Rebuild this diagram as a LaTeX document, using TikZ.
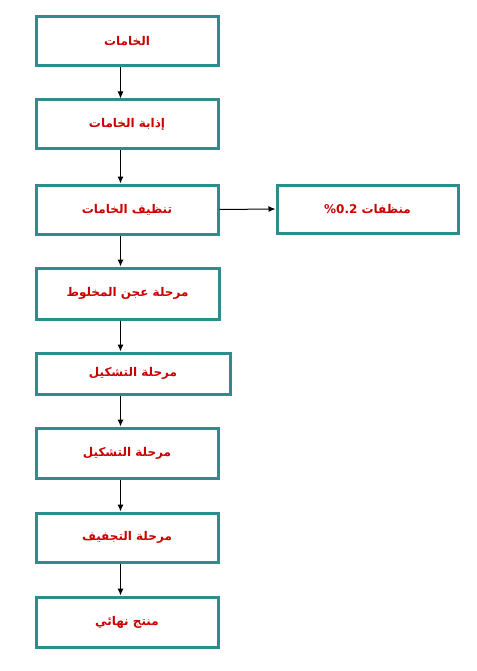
\documentclass[tikz,border=0pt]{standalone}
\usepackage{fontspec}
\newfontfamily\arabicfont[Script=Arabic]{DejaVu Sans}
\TeXXeTstate=1
\usetikzlibrary{arrows.meta}
\definecolor{boxteal}{RGB}{46,140,140}
\definecolor{txtred}{RGB}{204,0,0}
\tikzset{
  stagebox/.style={draw=boxteal, line width=3pt, fill=white, minimum width=182pt, minimum height=49pt,
    inner sep=0pt, font=\arabicfont\bfseries\fontsize{12pt}{14pt}\selectfont, text=txtred},
  flowarrow/.style={line width=1pt, -{Latex[length=7pt,width=6pt]}}
}
\begin{document}
\begin{tikzpicture}[x=1pt,y=-1pt]
\useasboundingbox[fill=white] (0,0) rectangle (476,671);
\node[stagebox] (b1) at (127,41.5) {\beginR الخامات\endR};
\node[stagebox] (b2) at (127,124.5) {\beginR إذابة الخامات\endR};
\node[stagebox] (b3) at (127,209.5) {\beginR تنظيف الخامات\endR};
\node[stagebox, minimum width=181pt, minimum height=48pt] (r1) at (367.5,209) {\beginR منظفات \beginL\%0.2\endL\endR};
\node[stagebox, minimum width=183pt, minimum height=51pt] (b4) at (127.5,293.5) {\beginR مرحلة عجن المخلوط\endR};
\node[stagebox, minimum width=194pt, minimum height=41pt] (b5) at (133,373.5) {\beginR مرحلة التشكيل\endR};
\node[stagebox, minimum height=50pt] (b6) at (127,453) {\beginR مرحلة التشكيل\endR};
\node[stagebox] (b7) at (127,537.5) {\beginR مرحلة التجفيف\endR};
\node[stagebox, minimum height=50pt] (b8) at (127,622) {\beginR منتج نهائي\endR};
\foreach \a/\b in {b1/b2,b2/b3,b3/b4,b4/b5,b5/b6,b6/b7,b7/b8}{
  \draw[flowarrow] ([xshift=86pt]\a.south west) -- ([xshift=86pt]\b.north west);
}
\draw[flowarrow] (b3.east) -- (r1.west);
\end{tikzpicture}
\end{document}
